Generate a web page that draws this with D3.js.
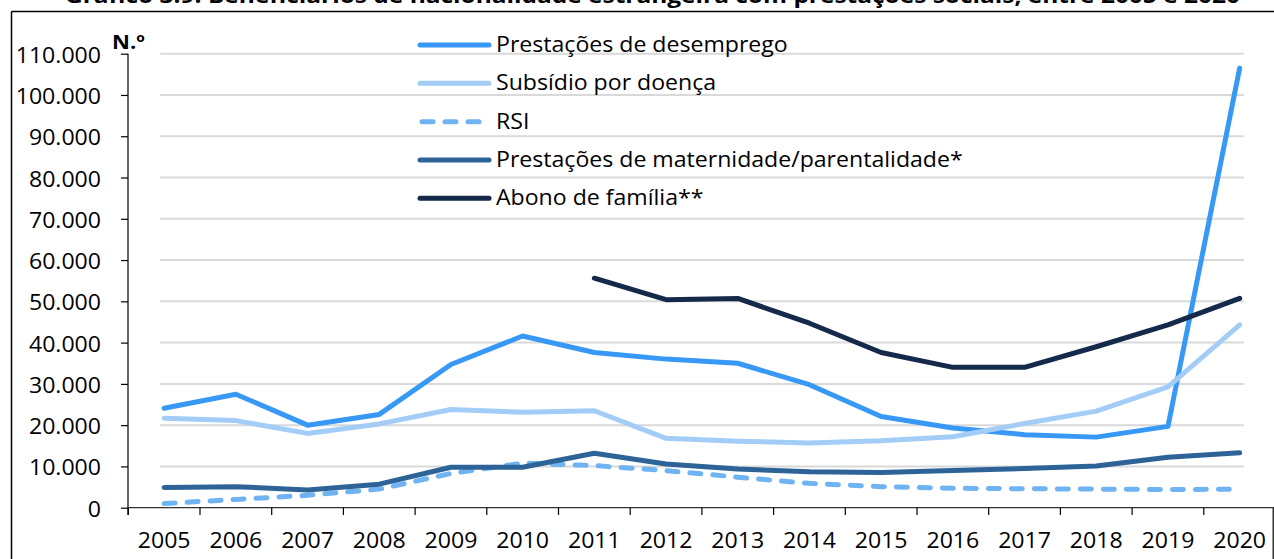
<!DOCTYPE html>
<html lang="pt">
<head>
<meta charset="utf-8">
<script src="https://cdn.jsdelivr.net/npm/d3@7"></script>
<style>
  html, body { margin: 0; padding: 0; background: #fff; }
  svg { display: block; }
  text { font-family: "Open Sans", "Noto Sans", sans-serif; fill: #000; }
</style>
</head>
<body>
<svg id="chart" width="1274" height="559"></svg>
<script>
// Beneficiários de nacionalidade estrangeira, por prestação social (N.º)
const years = [2005, 2006, 2007, 2008, 2009, 2010, 2011, 2012, 2013, 2014, 2015, 2016, 2017, 2018, 2019, 2020];
const desemprego  = [24100, 27500, 20000, 22600, 34700, 41600, 37600, 36000, 35000, 29800, 22100, 19300, 17700, 17100, 19700, 106500];
const doenca      = [21700, 21100, 18000, 20300, 23800, 23100, 23500, 16800, 16100, 15700, 16200, 17200, 20400, 23400, 29300, 44300];
const rsi         = [1000, 2000, 3000, 4500, 8300, 10800, 10200, 9000, 7400, 5900, 5100, 4700, 4600, 4500, 4400, 4500];
const maternidade = [4900, 5100, 4300, 5700, 9800, 9800, 13200, 10600, 9400, 8700, 8500, 9000, 9500, 10100, 12200, 13300];
const abono       = [null, null, null, null, null, null, 55600, 50400, 50700, 44700, 37600, 34000, 34000, 39000, 44300, 50700];
const yTicks = [0, 10000, 20000, 30000, 40000, 50000, 60000, 70000, 80000, 90000, 100000, 110000];

const seriesNames = ["Prestações de desemprego", "Subsídio por doença", "RSI",
                     "Prestações de maternidade/parentalidade*", "Abono de família**"];
const seriesValues = [desemprego, doenca, rsi, maternidade, abono];
const seriesColors = ["#3798F5", "#A3CDF7", "#6FB3F2", "#2E6398", "#15294A"];
const seriesDashed = [false, false, true, false, false];

const title = "Gráfico 3.9: Beneficiários de nacionalidade estrangeira com prestações sociais, entre 2005 e 2020";

const svg = d3.select("#chart");
const TEXT_SX = 1.1; // horizontal stretch of the typeface

// Scales
const x = d3.scaleBand().domain(years).range([128.3, 1275.5]).paddingInner(0).paddingOuter(0);
const y = d3.scaleLinear().domain([0, 110000]).range([507.7, 53.7]);
const cx = yr => x(yr) + x.bandwidth() / 2;

// Outer frame
svg.append("line").attr("x1", 11.5).attr("x2", 1274).attr("y1", 11.5).attr("y2", 11.5)
  .attr("stroke", "#000").attr("stroke-width", 1.5);
svg.append("line").attr("x1", 11.5).attr("x2", 11.5).attr("y1", 11.5).attr("y2", 559)
  .attr("stroke", "#000").attr("stroke-width", 1.5);
svg.append("line").attr("x1", 1273.2).attr("x2", 1273.2).attr("y1", 507.7).attr("y2", 559)
  .attr("stroke", "#000").attr("stroke-width", 1.2);

// Title (partly above the visible area)
svg.append("text")
  .attr("x", 65).attr("y", 3)
  .attr("textLength", 1175).attr("lengthAdjust", "spacingAndGlyphs")
  .style("font-weight", "700").style("font-size", "22px")
  .text(title);

// Horizontal gridlines
const gx0 = cx(years[0]) - 4, gx1 = cx(years[years.length - 1]) + 4;
svg.append("g").selectAll("line")
  .data(yTicks.filter(d => d > 0))
  .join("line")
  .attr("x1", gx0).attr("x2", gx1)
  .attr("y1", d => y(d)).attr("y2", d => y(d))
  .attr("stroke", "#D9D9D9").attr("stroke-width", 2);

// Y axis
const fmt = v => v === 0 ? "0" : d3.format(",")(v).replace(/,/g, ".");
const yAxis = svg.append("g").attr("transform", "translate(128,0)")
  .call(d3.axisLeft(y).tickValues(yTicks).tickSize(7).tickSizeOuter(0).tickFormat(fmt));
yAxis.select(".domain").remove();
yAxis.append("line").attr("x1", 0).attr("x2", 0).attr("y1", y(110000)).attr("y2", 515)
  .attr("stroke", "#000").attr("stroke-width", 1.2);
yAxis.selectAll(".tick line").attr("stroke", "#000").attr("stroke-width", 1.2);
yAxis.selectAll(".tick text")
  .attr("x", 0).attr("dy", null).attr("dominant-baseline", "central")
  .attr("transform", d => `translate(-27,0) scale(${TEXT_SX},1)`)
  .style("font-size", "21px").style("font-family", "'Open Sans', sans-serif")
  .attr("fill", "#000");

// X axis: boundary ticks + centred year labels
const boundaries = years.map(yr => x(yr)).concat([x(years[years.length - 1]) + x.bandwidth()]);
svg.append("line").attr("x1", 128.3).attr("x2", 1274).attr("y1", 507.7).attr("y2", 507.7)
  .attr("stroke", "#333").attr("stroke-width", 1.2);
svg.append("g").selectAll("line").data(boundaries).join("line")
  .attr("x1", d => d).attr("x2", d => d).attr("y1", 507.7).attr("y2", 515)
  .attr("stroke", "#000").attr("stroke-width", 1.2);
svg.append("g").selectAll("text").data(years).join("text")
  .attr("transform", d => `translate(${cx(d)},548) scale(${TEXT_SX},1)`)
  .attr("text-anchor", "middle")
  .style("font-size", "21px")
  .text(d => d);

// Unit label
svg.append("text").attr("transform", `translate(112,49) scale(${TEXT_SX},1)`)
  .style("font-weight", "700").style("font-size", "20px")
  .text("N.º");

// Series lines
const line = d3.line()
  .defined(d => d.v !== null)
  .x(d => cx(d.year))
  .y(d => y(d.v));

seriesValues.forEach((vals, i) => {
  const pts = years.map((yr, j) => ({ year: yr, v: vals[j] }));
  svg.append("path")
    .datum(pts)
    .attr("d", line)
    .attr("fill", "none")
    .attr("stroke", seriesColors[i])
    .attr("stroke-width", 5)
    .attr("stroke-linejoin", "round")
    .attr("stroke-linecap", "round")
    .attr("stroke-dasharray", seriesDashed[i] ? "11 12" : null);
});

// Legend
const legendY = [45, 83.3, 121.7, 160, 198.3];
const legend = svg.append("g");
seriesNames.forEach((name, i) => {
  const g = legend.append("g").attr("transform", `translate(0,${legendY[i]})`);
  g.append("line")
    .attr("x1", seriesDashed[i] ? 422 : 420).attr("x2", 489).attr("y1", 0).attr("y2", 0)
    .attr("stroke", seriesColors[i]).attr("stroke-width", 5)
    .attr("stroke-linecap", "round")
    .attr("stroke-dasharray", seriesDashed[i] ? "11 12" : null);
  g.append("text")
    .attr("transform", `translate(496,7) scale(${TEXT_SX},1)`)
    .style("font-size", "21px")
    .text(name);
});
</script>
</body>
</html>
